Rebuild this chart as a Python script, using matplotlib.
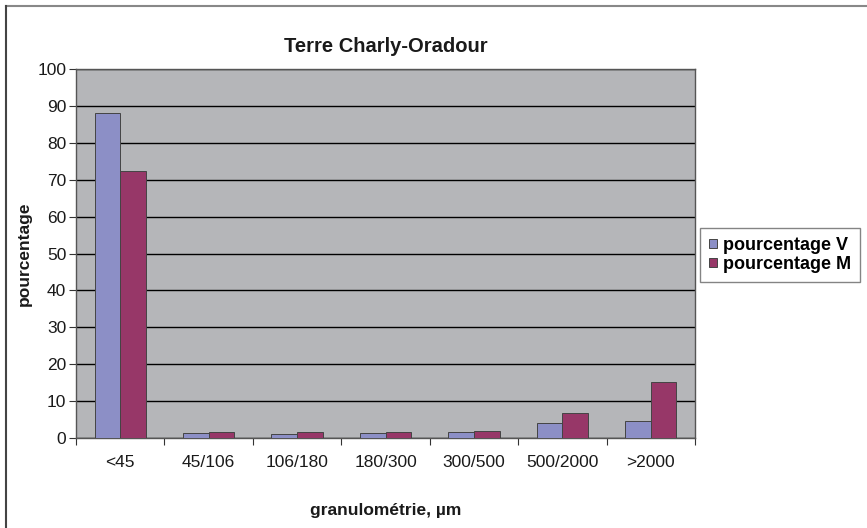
import matplotlib
matplotlib.use("Agg")
import matplotlib.pyplot as plt
import numpy as np
from matplotlib.lines import Line2D

plt.rcParams['font.family'] = ['Liberation Sans', 'DejaVu Sans']

categories = ["<45", "45/106", "106/180", "180/300", "300/500", "500/2000", ">2000"]
pourcentage_v = [88.1, 1.3, 1.1, 1.3, 1.5, 4.0, 4.7]
pourcentage_m = [72.3, 1.7, 1.5, 1.7, 2.0, 6.9, 15.1]

col_v = "#8c8fc6"
col_m = "#973768"

fig = plt.figure(figsize=(8.67, 5.28), dpi=100)
ax = fig.add_axes([76 / 867, 1 - 438 / 528, (695 - 76) / 867, (438 - 69) / 528])
ax.set_facecolor("#b5b6b9")

x = np.arange(len(categories))
w = 0.29
ax.bar(x - w / 2, pourcentage_v, w, color=col_v, edgecolor="#444444", linewidth=0.7,
       label="pourcentage V", zorder=3)
ax.bar(x + w / 2, pourcentage_m, w, color=col_m, edgecolor="#444444", linewidth=0.7,
       label="pourcentage M", zorder=3)

ax.set_xlim(-0.5, len(categories) - 0.5)
ax.set_ylim(0, 100)
ax.set_yticks(np.arange(0, 101, 10))
ax.yaxis.grid(True, color="black", linewidth=1.0, zorder=1)
ax.set_axisbelow(True)

ax.set_xticks(np.arange(len(categories) + 1) - 0.5, minor=False)
ax.set_xticklabels([""] * (len(categories) + 1))
ax.set_xticks(x, minor=True)
ax.set_xticklabels(categories, minor=True, fontsize=12.5, color="#1a1a1a")
ax.tick_params(axis="x", which="minor", length=0, pad=12)
ax.tick_params(axis="x", which="major", length=5, direction="out", color="#333333")
ax.tick_params(axis="y", length=5, direction="out", labelsize=12.5, pad=2,
               color="#333333", labelcolor="#1a1a1a")

for s in ax.spines.values():
    s.set_color("#555555")
    s.set_linewidth(1.0)

ax.set_title("Terre Charly-Oradour", fontsize=14.5, fontweight="bold", pad=12, color="#1a1a1a")
ax.set_xlabel("granulométrie, µm", fontsize=12.5, fontweight="bold", labelpad=24, color="#1a1a1a")
ax.set_ylabel("pourcentage", fontsize=12.5, fontweight="bold", labelpad=4, color="#1a1a1a")

leg = fig.legend(loc="upper left", bbox_to_anchor=(700 / 867, 1 - 228 / 528),
                 prop={"weight": "bold", "size": 13},
                 frameon=True, fancybox=False, edgecolor="#666666",
                 handlelength=0.45, handleheight=0.45, handletextpad=0.3,
                 borderpad=0.5, labelspacing=0.1, borderaxespad=0)
leg.get_frame().set_linewidth(1.0)

# outer chart border (top and left only visible)
fig.add_artist(Line2D([6 / 867, 1], [1 - 6 / 528, 1 - 6 / 528], color="#888888", linewidth=1.5))
fig.add_artist(Line2D([6 / 867, 6 / 867], [0, 1 - 6 / 528], color="#444444", linewidth=1.5))

fig.savefig("out.png", dpi=100)
